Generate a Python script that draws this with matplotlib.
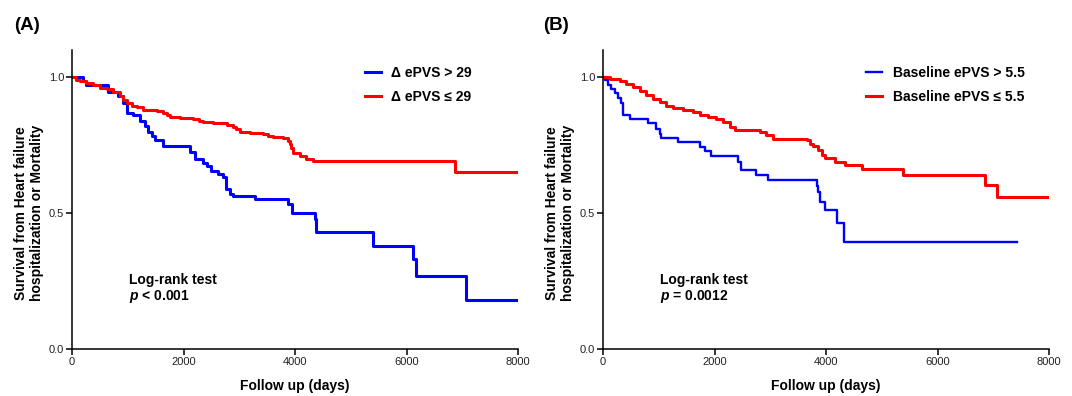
import matplotlib
matplotlib.use("Agg")
import matplotlib.pyplot as plt

plt.rcParams['font.family'] = ['Liberation Sans', 'DejaVu Sans']
plt.rcParams['mathtext.fontset'] = 'custom'
plt.rcParams['mathtext.it'] = 'Liberation Sans:italic:bold'
plt.rcParams['mathtext.rm'] = 'Liberation Sans:bold'

# ---------------- data ----------------
# Panel A : delta ePVS
a_hi_t = [0, 200, 250, 650, 830, 920, 980, 1100, 1220, 1310, 1370, 1430, 1490, 1640,
          2115, 2200, 2350, 2420, 2500, 2620, 2710, 2760, 2830, 2890, 3280, 3880, 3940,
          4350, 4385, 5400, 6120, 6175, 7075, 8000]
a_hi_s = [1.0, 0.985, 0.97, 0.945, 0.93, 0.905, 0.87, 0.86, 0.84, 0.82, 0.80, 0.785, 0.77, 0.745,
          0.726, 0.70, 0.686, 0.674, 0.656, 0.643, 0.631, 0.59, 0.57, 0.563, 0.551, 0.533, 0.502,
          0.48, 0.43, 0.38, 0.33, 0.27, 0.18, 0.18]

a_lo_t = [0, 80, 143, 250, 382, 500, 621, 740, 860, 920, 980, 1080, 1159, 1278, 1517, 1637,
          1700, 1756, 1935, 2174, 2280, 2354, 2533, 2772, 2891, 2950, 3011, 3190, 3429, 3520,
          3608, 3787, 3877, 3910, 3937, 3967, 4086, 4205, 4325, 6864, 8000]
a_lo_s = [1.0, 0.99, 0.985, 0.978, 0.97, 0.962, 0.955, 0.945, 0.93, 0.915, 0.905, 0.895, 0.89,
          0.88, 0.875, 0.87, 0.862, 0.855, 0.85, 0.845, 0.84, 0.835, 0.83, 0.825, 0.815, 0.808,
          0.80, 0.795, 0.79, 0.785, 0.78, 0.775, 0.765, 0.755, 0.74, 0.72, 0.71, 0.70, 0.69,
          0.65, 0.65]

# Panel B : baseline ePVS
b_hi_t = [0, 30, 90, 150, 209, 269, 329, 359, 479, 808, 957, 1017, 1047, 1346, 1735, 1825,
          1944, 2418, 2478, 2747, 2957, 3830, 3860, 3900, 3980, 4189, 4327, 7420]
b_hi_s = [1.0, 0.99, 0.97, 0.955, 0.94, 0.925, 0.905, 0.86, 0.845, 0.83, 0.81, 0.79, 0.775,
          0.76, 0.744, 0.727, 0.709, 0.688, 0.66, 0.64, 0.62, 0.598, 0.577, 0.54, 0.513, 0.462,
          0.395, 0.395]

b_lo_t = [0, 120, 299, 419, 539, 658, 778, 898, 1017, 1137, 1257, 1436, 1616, 1735, 1885,
          2034, 2154, 2274, 2364, 2813, 2932, 3052, 3651, 3720, 3770, 3860, 3920, 3980, 4159,
          4339, 4638, 5386, 6852, 7073, 8000]
b_lo_s = [1.0, 0.995, 0.986, 0.975, 0.964, 0.951, 0.935, 0.92, 0.91, 0.895, 0.885, 0.879,
          0.871, 0.861, 0.852, 0.845, 0.834, 0.818, 0.806, 0.797, 0.787, 0.774, 0.768, 0.756,
          0.747, 0.731, 0.713, 0.703, 0.688, 0.676, 0.661, 0.639, 0.602, 0.561, 0.561]

labels_a = ['\u0394 ePVS > 29', '\u0394 ePVS \u2264 29']
labels_b = ['Baseline ePVS > 5.5', 'Baseline ePVS \u2264 5.5']
pvals = ['$p$ < 0.001', '$p$ = 0.0012']
panel_names = ['(A)', '(B)']
x_ticks = [0, 2000, 4000, 6000, 8000]
y_ticks = [0.0, 0.5, 1.0]
y_ticklabels = ['0.0', '0.5', '1.0']

# ---------------- figure ----------------
fig = plt.figure(figsize=(10.72, 3.96), dpi=100)
W, H = 1072, 396
ax_a = fig.add_axes([72 / W, 1 - 349 / H, 446 / W, 299 / H])
ax_b = fig.add_axes([603 / W, 1 - 349 / H, 446 / W, 299 / H])

panels = [
    (ax_a, a_hi_t, a_hi_s, a_lo_t, a_lo_s, labels_a, pvals[0], 0.657, 2.2),
    (ax_b, b_hi_t, b_hi_s, b_lo_t, b_lo_s, labels_b, pvals[1], 0.59, 1.7),
]

for ax, ht, hs, lt, ls, labs, pv, legx, blw in panels:
    ax.step(ht, hs, where='post', color='#0000FF', lw=blw, label=labs[0])
    ax.step(lt, ls, where='post', color='#FF0000', lw=2.2, label=labs[1])
    ax.set_xlim(0, 8000)
    ax.set_ylim(0, 1.1)
    ax.set_xticks(x_ticks)
    ax.set_xticklabels([str(v) for v in x_ticks])
    ax.set_yticks(y_ticks)
    ax.set_yticklabels(y_ticklabels)
    for s in ['top', 'right']:
        ax.spines[s].set_visible(False)
    for s in ['left', 'bottom']:
        ax.spines[s].set_linewidth(1.1)
    ax.tick_params(axis='both', direction='out', length=4, width=1.1, labelsize=8,
                   pad=1.5, colors='black', labelcolor='#222222')
    ax.set_xlabel('Follow up (days)', fontsize=10, fontweight='bold', labelpad=9)
    ax.set_ylabel('Survival from Heart failure\nhospitalization or Mortality',
                  fontsize=10, fontweight='bold')
    ax.yaxis.set_label_coords(-0.062, 0.5 / 1.1)
    ax.legend(loc='upper left', bbox_to_anchor=(legx, 0.948), frameon=False,
              prop={'weight': 'bold', 'size': 10}, handlelength=1.15,
              handletextpad=0.75, labelspacing=0.72, borderpad=0, borderaxespad=0)
    ax.text(1022, 0.255, 'Log-rank test', fontsize=10, fontweight='bold', va='center', ha='left')
    ax.text(1022, 0.192, pv, fontsize=10, fontweight='bold', va='center', ha='left')

fig.text(14 / W, 1 - 25 / H, panel_names[0], fontsize=13.5, fontweight='bold', va='center', ha='left')
fig.text(543 / W, 1 - 25 / H, panel_names[1], fontsize=13.5, fontweight='bold', va='center', ha='left')

fig.savefig('out.png', dpi=100, facecolor='white')
